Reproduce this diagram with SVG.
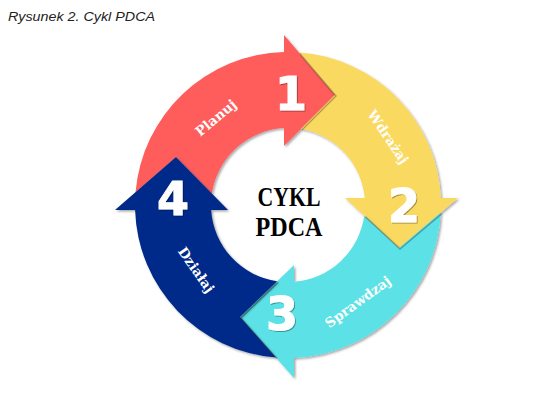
<svg xmlns="http://www.w3.org/2000/svg" width="536" height="407" viewBox="0 0 536 407">
  <defs>
    <filter id="shadow" x="-10%" y="-10%" width="125%" height="125%">
      <feDropShadow dx="1.5" dy="1.5" stdDeviation="1" flood-color="#000" flood-opacity="0.35"/>
    </filter>
    <filter id="tshadow" x="-20%" y="-20%" width="150%" height="150%">
      <feDropShadow dx="1" dy="1" stdDeviation="0.6" flood-color="#000" flood-opacity="0.35"/>
    </filter>
    <filter id="soft" x="-20%" y="-20%" width="140%" height="140%">
      <feGaussianBlur stdDeviation="0.7"/>
    </filter>
  </defs>
  <style>
    .arrow { filter: url(#shadow); }
    .num { font-family: "DejaVu Sans", "Liberation Sans", sans-serif; font-weight: bold; font-size: 46px; fill: #ffffff; stroke: #ffffff; stroke-width: 1; text-anchor: middle; filter: url(#tshadow); }
    .lbl { font-family: "DejaVu Serif", "Liberation Serif", serif; font-weight: bold; font-size: 13.5px; fill: #ffffff; text-anchor: middle; }
    .center { font-family: "Liberation Serif", "DejaVu Serif", serif; font-weight: bold; font-size: 28px; fill: #000000; text-anchor: middle; }
    .title { font-family: "Liberation Sans", Arial, sans-serif; font-style: italic; font-size: 13px; fill: #222222; }
    .hs { fill: none; stroke: #000; stroke-opacity: 0.28; stroke-width: 1.5; filter: url(#soft); }
  </style>

  <text class="title" x="8" y="20.5" textLength="147" lengthAdjust="spacingAndGlyphs">Rysunek 2. Cykl PDCA</text>

  <g id="planuj">
    <path class="arrow" fill="#FF5B5B" d="M135.54,192.15 A153,153 0 0 1 284,52.05 L284,35 L335,95 L284,146 L284,128.1 A77,77 0 0 0 211.86,193.55 L176,157 Z"/>
    <text class="num" x="291" y="110">1</text>
    <g transform="translate(216,118) rotate(-40)"><text class="lbl" x="0" y="4.5">Planuj</text></g>
  </g>

  <g id="wdrazaj">
    <path class="arrow" fill="#FAD961" d="M298.77,52.38 A153,153 0 0 1 440.84,198 L458,198 L399,248 L345,198 L364.68,198 A77,77 0 0 0 300.91,129.09 L335,95 Z"/>
    <text class="num" x="404" y="222">2</text>
    <g transform="translate(388,137) rotate(56)"><text class="lbl" x="0" y="4.5">Wdrażaj</text></g>
  </g>

  <g id="sprawdzaj">
    <path class="arrow" fill="#5CE1E6" d="M440.81,212.57 A153,153 0 0 1 294,357.88 L294,378 L240,317 L294,265 L294,281.77 A77,77 0 0 0 364.24,215.81 L399,248 Z"/>
    <text class="num" x="282" y="330">3</text>
    <g transform="translate(358,302) rotate(-36)"><text class="lbl" x="0" y="4.5">Sprawdzaj</text></g>
  </g>

  <g id="dzialaj">
    <path class="arrow" fill="#042B8A" d="M275.87,357.52 A153,153 0 0 1 135.08,210 L115,210 L176,157 L228,210 L211.16,210 A77,77 0 0 0 277.15,281.23 L240,317 Z"/>
    <text class="num" x="173" y="215">4</text>
    <g transform="translate(196,270) rotate(55)"><text class="lbl" x="0" y="4.5">Działaj</text></g>
  </g>

  <g id="connectors">
    <path class="hs" transform="translate(1,1)" d="M298.77,52.38 L335,95 L300.91,129.09"/>
    <path class="hs" transform="translate(1,1)" d="M440.81,212.57 L399,248 L364.24,215.81"/>
    <path class="hs" transform="translate(1,1)" d="M275.87,357.52 L240,317 L277.15,281.23"/>
  </g>

  <g id="cykl-pdca">
    <text class="center" x="289" y="205.5" textLength="63" lengthAdjust="spacingAndGlyphs">CYKL</text>
    <text class="center" x="289" y="235.5" textLength="67" lengthAdjust="spacingAndGlyphs">PDCA</text>
  </g>
</svg>
